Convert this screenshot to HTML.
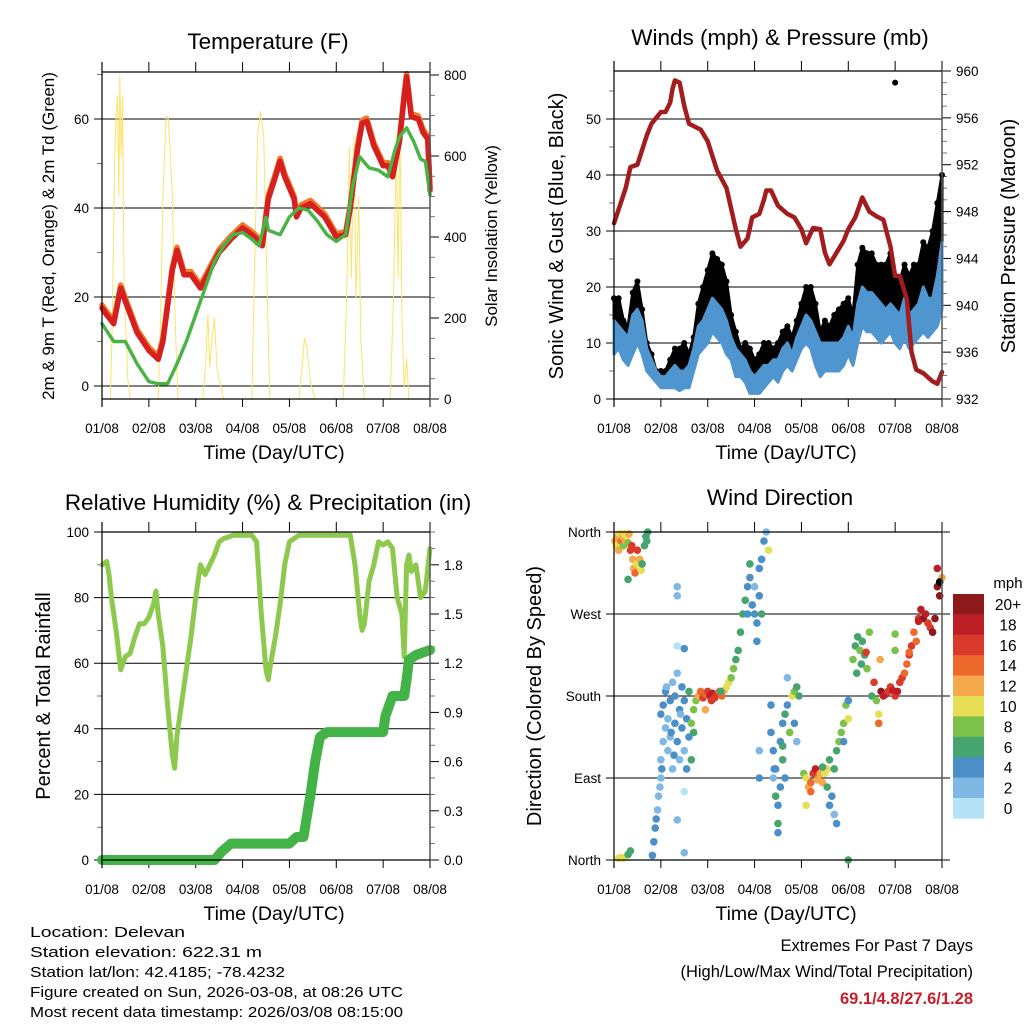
<!DOCTYPE html>
<html><head><meta charset="utf-8"><style>
html,body{margin:0;padding:0;background:#fff}
svg{display:block}
text{font-family:"Liberation Sans",sans-serif;fill:#000}
</style></head><body>
<svg id="s" width="1024" height="1024" viewBox="0 0 1024 1024" xmlns="http://www.w3.org/2000/svg">
<rect width="1024" height="1024" fill="#fff"/>
<g id="g"></g>
<g font-size="14.5">
<text x="30" y="937" textLength="155" lengthAdjust="spacingAndGlyphs">Location: Delevan</text>
<text x="30" y="957" textLength="232" lengthAdjust="spacingAndGlyphs">Station elevation: 622.31 m</text>
<text x="30" y="977" textLength="255" lengthAdjust="spacingAndGlyphs">Station lat/lon: 42.4185; -78.4232</text>
<text x="30" y="997" textLength="373" lengthAdjust="spacingAndGlyphs">Figure created on Sun, 2026-03-08, at 08:26 UTC</text>
<text x="30" y="1017" textLength="373" lengthAdjust="spacingAndGlyphs">Most recent data timestamp: 2026/03/08 08:15:00</text>
</g>
<g font-size="16.5" text-anchor="end">
<text x="973" y="951">Extremes For Past 7 Days</text>
<text x="973" y="977">(High/Low/Max Wind/Total Precipitation)</text>
<text x="973" y="1004" font-weight="bold" style="fill:#c8202a">69.1/4.8/27.6/1.28</text>
</g>
</svg>
<script>
// ---------- data ----------
const dayLabels=["01/08","02/08","03/08","04/08","05/08","06/08","07/08","08/08"];
const tempT=[0,0.1,0.25,0.4,0.5,0.75,1.0,1.2,1.3,1.5,1.6,1.75,1.9,2.1,2.3,2.5,2.75,3.0,3.2,3.3,3.42,3.55,3.7,3.8,3.9,4.1,4.15,4.25,4.45,4.75,5.0,5.2,5.3,5.45,5.55,5.65,5.8,6.0,6.1,6.2,6.35,6.45,6.5,6.6,6.75,6.85,6.95,7.0];
const tempV=[17.5,16,14,22,19,12,8,6,10,26,30.5,25,25,22,26,30,33,35.5,34,33,31.5,42,47,50.5,47,42,38,40,41,38,33.5,34,40,53,59,59.5,54,49.5,49.5,47,55,65,69.5,60.5,60,57,55.5,44];
const dewT=[0,0.25,0.5,0.75,1.0,1.2,1.4,1.6,1.8,2.0,2.2,2.4,2.6,2.8,3.0,3.2,3.35,3.5,3.55,3.8,4.0,4.2,4.4,4.6,4.8,5.0,5.2,5.35,5.5,5.7,5.9,6.1,6.25,6.35,6.5,6.65,6.8,6.9,7.0];
const dewV=[14,10,10,5,1,0.5,0.5,5,10,16,22,28,31.5,34,34.5,33,31.5,38,35,34,38,40,39.5,37,34,32.5,34,45,51.5,49,48.5,47,53,56,58,55,51,50.5,43];
const solarT=[0,0.18,0.22,0.27,0.3,0.33,0.36,0.38,0.41,0.44,0.47,0.5,0.55,0.6,1.2,1.25,1.3,1.37,1.42,1.5,1.56,1.62,2.15,2.22,2.26,2.3,2.35,2.4,2.45,2.5,2.6,3.2,3.25,3.32,3.38,3.45,3.52,3.58,4.2,4.27,4.32,4.37,4.45,4.55,5.15,5.22,5.28,5.32,5.38,5.42,5.48,5.52,5.6,6.15,6.22,6.28,6.32,6.36,6.4,6.45,6.5,6.55,7.0];
const solarV=[0,0,200,600,700,750,500,800,600,750,300,200,50,0,0,200,500,700,690,500,200,0,0,100,210,80,150,200,80,50,0,0,300,650,710,650,300,0,0,80,150,130,40,0,0,250,620,300,650,250,500,150,0,0,250,650,300,680,200,30,100,0,0];
const presT=[0,0.25,0.35,0.5,0.7,0.8,1.0,1.1,1.2,1.25,1.3,1.4,1.5,1.6,1.85,2.0,2.2,2.4,2.6,2.7,2.85,2.95,3.1,3.2,3.25,3.35,3.5,3.7,3.85,4.0,4.1,4.25,4.4,4.5,4.6,4.75,4.9,5.0,5.15,5.3,5.45,5.6,5.75,5.9,6.0,6.1,6.25,6.35,6.45,6.6,6.8,6.9,7.0];
const presV=[947,950,951.8,952,954.5,955.5,956.5,956.5,957.3,958.5,959.2,959,957,955.5,955,954,951.5,950,946.5,945,945.7,947.5,947.8,949,949.8,949.8,948.5,947.8,947.5,946.5,945.3,946.6,946.5,944.5,943.5,944.5,945.5,946.5,947.5,949.2,948,947.6,947.3,945,942.5,942.5,940.5,936,934.5,934.2,933.5,933.3,934.3];
// wind every 0.1 day
const windLo=[8,9,7,6,8,10,8,5,4,3,2,2,2,2,1.5,2,2,5,8,9,10,12,11,10,8,7,4,4,3,1,1,1,2,3,4,3,5,6,5,7,9,10,9,6,4,5,5,5,5,6,8,6,10,13,12,12,11,10,11,12,10,9,11,9,10,11,12,11,12,13,16];
const windHi=[14,13,12,11,15,16,14,9,7,5,4,4,5,6,5,5,6,9,13,14,16,18,17,16,14,11,9,8,7,5,4,5,6,6,7,7,9,10,8,11,13,15,14,12,10,10,10,10,10,11,13,11,17,20,19,19,18,17,16,17,16,15,18,15,16,17,20,18,18,22,28];
const gust=[18,18,14,13,19,21,16,10,8,5,5,5,7,9,9,10,8,11,17,20,23,26,25,24,21,15,12,9,10,9,7,8,10,10,9,10,12,13,11,14,17,20,20,17,12,14,13,15,16,17,18,15,24,27,26,26,24,24,24,26,22,21,24,22,24,24,28,27,30,35,40];
const gustOutT=[6.0], gustOutV=[56.5];
const rhT=[0,0.1,0.15,0.2,0.3,0.4,0.5,0.6,0.7,0.8,0.9,1.0,1.1,1.15,1.2,1.3,1.4,1.5,1.55,1.6,1.7,1.8,1.9,2.0,2.1,2.2,2.3,2.4,2.5,2.6,2.8,3.0,3.2,3.3,3.4,3.5,3.55,3.6,3.7,3.8,3.9,4.0,4.2,4.5,5.0,5.3,5.4,5.5,5.55,5.6,5.7,5.8,5.9,6.0,6.1,6.2,6.3,6.4,6.45,6.5,6.55,6.6,6.7,6.8,6.9,7.0];
const rhV=[90,91,87,80,70,58,62,63,68,72,72,74,78,82,75,65,47,32,28,38,48,58,68,80,90,87,90,93,97,98,99,99,99,97,75,58,55,60,68,78,90,97,99,99,99,99,90,75,70,72,85,90,97,96,97,95,80,75,62,90,93,88,90,80,82,95];
const prT=[0,2.4,2.55,2.75,4.0,4.15,4.3,4.45,4.55,4.65,4.8,6.0,6.05,6.2,6.45,6.5,6.55,6.7,6.9,7.0];
const prV=[0,0,0.05,0.1,0.1,0.14,0.14,0.4,0.6,0.75,0.78,0.78,0.88,1.0,1.0,1.1,1.22,1.25,1.27,1.28];
// wind direction scatter: time (days), direction (deg), speed (mph)
const dirT=[0.02,0.05,0.08,0.1,0.12,0.15,0.18,0.2,0.22,0.25,0.28,0.3,0.32,0.35,0.38,0.4,0.42,0.45,0.48,0.5,0.55,0.58,0.6,0.65,0.68,0.7,0.72,0.3,0.1,0.15,0.2,0.3,0.35,
0.82,0.85,0.88,0.9,0.93,0.95,0.98,1.0,1.02,1.0,1.0,1.05,1.05,1.1,1.1,1.15,1.15,1.2,1.2,1.25,1.25,1.3,1.3,1.35,1.35,1.4,1.4,1.45,1.45,1.5,1.5,1.55,1.55,1.6,1.6,1.65,1.65,1.7,1.7,1.75,1.35,1.35,1.35,1.5,1.35,1.5,1.5,1.12,1.22,1.42,1.28,
1.8,1.85,1.9,1.95,2.0,2.05,2.1,2.15,2.2,2.25,2.3,2.35,2.4,2.45,2.5,2.55,2.6,2.65,2.7,2.75,2.8,2.85,2.9,2.95,3.0,3.0,3.05,3.05,3.1,3.1,3.15,3.15,2.9,2.85,3.2,3.25,3.3,1.95,2.08,2.28,
3.35,3.35,3.4,3.4,3.45,3.45,3.5,3.5,3.5,3.55,3.55,3.6,3.6,3.65,3.65,3.7,3.75,3.8,3.85,3.9,3.95,3.85,3.9,3.1,3.1,3.6,3.7,3.42,
4.05,4.1,4.15,4.2,4.25,4.3,4.35,4.4,4.45,4.5,4.55,4.6,4.55,4.6,4.65,4.7,4.75,4.7,4.75,4.8,4.85,4.9,4.95,5.0,5.0,4.9,5.0,4.1,4.2,4.35,4.45,
5.1,5.15,5.2,5.25,5.3,5.35,5.4,5.45,5.55,5.5,5.18,5.28,5.38,
5.7,5.75,5.8,5.85,5.9,5.95,6.0,6.05,6.1,6.15,6.2,6.25,6.3,6.35,6.4,6.45,6.5,6.55,6.6,6.65,6.7,6.75,6.8,6.85,6.9,6.95,7.0,5.6,5.65,5.68,6.0,6.0,5.65,6.3,6.5,6.9,6.95];
const dirV=[350,345,355,340,358,350,355,345,358,350,355,348,358,340,345,330,320,315,325,340,330,318,325,345,355,350,360,308,2,3,2,6,10,
5,20,35,45,55,70,80,90,100,110,160,170,130,145,185,120,155,175,135,100,195,150,180,130,205,165,110,145,190,120,175,100,155,135,185,110,150,140,165,175,300,290,235,232,44,8,75,190,140,160,115,
180,185,178,182,185,180,183,178,182,185,180,186,190,195,200,210,220,230,250,270,285,300,310,280,270,300,260,240,320,290,330,270,325,270,350,360,340,165,175,185,
170,140,120,90,70,100,60,40,30,80,130,150,110,90,160,170,140,180,185,190,180,150,130,120,90,125,200,100,
95,90,80,85,95,100,90,95,85,95,100,110,80,60,70,50,40,100,120,130,140,150,170,175,0,130,155,60,75,88,102,
220,235,245,230,240,225,210,250,195,180,205,215,228,
185,180,182,185,190,186,180,185,195,200,205,215,225,235,250,240,265,275,265,270,260,255,250,265,300,290,310,175,160,220,248,230,150,228,262,320,305];
const dirS=[12,11,13,12,10,14,12,9,10,13,11,9,12,16,17,13,12,14,10,16,12,10,7,6,6,7,6,6,10,11,10,7,6,
4,5,4,4,3,3,3,3,4,3,4,4,3,3,4,3,2,4,3,3,3,4,5,4,3,4,3,4,5,3,4,4,5,5,6,6,8,7,8,9,2,2,1,4,3,2,1,3,4,3,4,
12,14,16,15,17,18,19,17,16,15,14,12,11,10,8,8,7,7,6,6,6,5,5,4,4,3,4,4,5,5,4,7,6,4,4,2,11,13,16,
6,5,4,4,3,6,5,4,6,4,5,4,5,6,5,6,5,8,10,9,7,6,5,2,2,4,7,3,
4,8,10,12,14,16,18,15,13,12,10,11,7,6,4,4,3,4,6,7,8,8,9,9,4,6,5,10,11,15,13,
7,8,7,6,8,7,6,8,9,16,7,6,7,
17,20,19,18,17,16,18,17,18,17,16,15,14,16,16,15,14,16,18,20,18,16,17,20,20,21,21,12,8,11,12,9,8,14,15,19,18];
const cbLabels=["20+","18","16","14","12","10","8","6","4","2","0"];
const cbColors=["#8e191c","#bd1f26","#da3a2b","#ee6a2c","#f5a94a","#e6de55","#7cc24a","#46a46e","#4a8fc8","#7fb9e3","#b5e2f6"];

// ---------- helpers ----------
const NS="http://www.w3.org/2000/svg";
const G=document.getElementById('g');
function el(tag,attrs,parent){const e=document.createElementNS(NS,tag);for(const k in attrs)e.setAttribute(k,attrs[k]);(parent||G).appendChild(e);return e;}
function txt(x,y,s,size,anchor,parent,rot){const t=el('text',{x:x,y:y,'font-size':size,'text-anchor':anchor||'middle'},parent);if(rot)t.setAttribute('transform','rotate(-90 '+x+' '+y+')');t.textContent=s;return t;}
function scale(d0,d1,r0,r1){return v=>r0+(v-d0)*(r1-r0)/(d1-d0);}
function poly(xs,ys,fx,fy,stroke,w,parent){let p='';for(let i=0;i<xs.length;i++)p+=(i?'L':'M')+fx(xs[i]).toFixed(1)+' '+fy(ys[i]).toFixed(1);return el('path',{d:p,fill:'none',stroke:stroke,'stroke-width':w,'stroke-linejoin':'round','stroke-linecap':'round'},parent);}

function panel(name,x0,x1,yt,yb,title,titleY){
  const g=el('g',{});
  
  
  const fx=scale(0,7,x0,x1);
  const tt=txt((x0+x1)/2+2,titleY,title,22.5,'middle',g);
  
  
  for(let i=0;i<8;i++){const x=fx(i);
    el('line',{x1:x,x2:x,y1:yt-10,y2:yt,stroke:'#000','stroke-width':1},g);
    el('line',{x1:x,x2:x,y1:yb,y2:yb+8,stroke:'#000','stroke-width':1},g);
    const l=txt(x,yb+34,dayLabels[i],13.5,'middle',g);
    
    
  }
  const xt=txt((x0+x1)/2+8,yb+60,'Time (Day/UTC)',19.5,'middle',g);
  
  
  return {g,fx};
}
function frame(g,x0,x1,yt,yb){
  el('line',{x1:x0,x2:x0,y1:yt-10,y2:yb+8,stroke:'#000','stroke-width':1.2},g);
  el('line',{x1:x1,x2:x1,y1:yt-10,y2:yb+8,stroke:'#555','stroke-width':1.5},g);
  el('line',{x1:x0,x2:x1,y1:yt,y2:yt,stroke:'#000','stroke-width':1.2},g);
  el('line',{x1:x0,x2:x1,y1:yb,y2:yb,stroke:'#000','stroke-width':1.2},g);
}
function leftAxis(g,x0,x1,fy,ticks,labels,minor,ext){
  ticks.forEach((v,i)=>{const y=fy(v);
    el('line',{x1:x0-8,x2:x1+(ext||0),y1:y,y2:y,stroke:'#000','stroke-width':1},g);
    const t=txt(x0-13,y+5,labels[i],13.5,'end',g);
    
    
  });
  (minor||[]).forEach(v=>{const y=fy(v);el('line',{x1:x0-5,x2:x0,y1:y,y2:y,stroke:'#555','stroke-width':0.8},g);});
}
function rightAxis(g,x1,fy,ticks,labels,minor){
  ticks.forEach((v,i)=>{const y=fy(v);
    el('line',{x1:x1,x2:x1+9,y1:y,y2:y,stroke:'#000','stroke-width':1},g);
    const t=txt(x1+14,y+5,labels[i],13.5,'start',g);
    
    
  });
  (minor||[]).forEach(v=>{const y=fy(v);el('line',{x1:x1,x2:x1+5,y1:y,y2:y,stroke:'#555','stroke-width':0.8},g);});
}
function range(a,b,s){const r=[];for(let v=a;v<=b+1e-9;v+=s)r.push(+v.toFixed(4));return r;}

// ---------- Temperature ----------
(function(){
  const x0=102,x1=430,yt=72,yb=399;
  const {g,fx}=panel('temperature-chart',x0,x1,yt,yb,'Temperature (F)',49);
  const fy=scale(0,60,386,119), fs=scale(0,800,399,75);
  leftAxis(g,x0,x1,fy,[0,20,40,60],['0','20','40','60'],range(-0,70,10).filter(v=>v%20));
  rightAxis(g,x1,fs,[0,200,400,600,800],['0','200','400','600','800'],range(50,800,50).filter(v=>v%200));
  const s=poly(solarT,solarV,fx,fs,'#fbe36a',1,g);
  
  
  const o=poly(tempT,tempV.map(v=>v+0.7),fx,fy,'#f07a2a',5.5,g);
  
  
  const r=poly(tempT,tempV,fx,fy,'#d6201f',5.5,g);
  
  
  const d=poly(dewT,dewV,fx,fy,'#4ab346',3.5,g);
  
  
  d.setAttribute('stroke-dasharray','3 1.5');
  frame(g,x0,x1,yt,yb);
  const a=txt(54,236,'2m & 9m T (Red, Orange) & 2m Td (Green)',17,'middle',g,true);
  
  
  const b=txt(497,236,'Solar Insolation (Yellow)',17,'middle',g,true);
  
  
})();

// ---------- Winds ----------
(function(){
  const x0=614,x1=942,yt=71,yb=399;
  const {g,fx}=panel('winds-pressure-chart',x0,x1,yt,yb,'Winds (mph) & Pressure (mb)',45);
  const fy=scale(0,50,399,119), fp=scale(932,960,399,71);
  leftAxis(g,x0,x1,fy,[0,10,20,30,40,50],['0','10','20','30','40','50'],range(5,55,10));
  rightAxis(g,x1,fp,[932,936,940,944,948,952,956,960],['932','936','940','944','948','952','956','960'],range(933,959,1).filter(v=>v%4));
  const wt=windLo.map((_,i)=>i*0.1);
  let p='';
  wt.forEach((t,i)=>p+=(i?'L':'M')+fx(t).toFixed(1)+' '+fy(gust[i]).toFixed(1));
  for(let i=wt.length-1;i>=0;i--)p+='L'+fx(wt[i]).toFixed(1)+' '+fy(windLo[i]+1).toFixed(1);
  const gb=el('path',{d:p+'Z',fill:'#000',stroke:'#000','stroke-width':3,'stroke-linejoin':'round'},g);
  
  
  wt.forEach((t,i)=>{const c=el('circle',{cx:fx(t),cy:fy(gust[i]),r:3,fill:'#000'},g);
    
    });
  gustOutT.forEach((t,i)=>{const c=el('circle',{cx:fx(t),cy:fy(gustOutV[i]),r:3,fill:'#000'},g);
    
    });
  p='';
  wt.forEach((t,i)=>p+=(i?'L':'M')+fx(t).toFixed(1)+' '+fy(windHi[i]).toFixed(1));
  for(let i=wt.length-1;i>=0;i--)p+='L'+fx(wt[i]).toFixed(1)+' '+fy(windLo[i]).toFixed(1);
  const wb=el('path',{d:p+'Z',fill:'#4f95d0',stroke:'#4f95d0','stroke-width':3,'stroke-linejoin':'round'},g);
  
  
  const pr=poly(presT,presV,fx,fp,'#a31d1e',4.5,g);
  
  
  frame(g,x0,x1,yt,yb);
  const a=txt(563,236,'Sonic Wind & Gust (Blue, Black)',20,'middle',g,true);
  
  
  const b=txt(1015,236,'Station Pressure (Maroon)',20,'middle',g,true);
  
  
})();

// ---------- RH & Precip ----------
(function(){
  const x0=102,x1=430,yt=532,yb=860;
  const {g,fx}=panel('humidity-precip-chart',x0,x1,yt,yb,'Relative Humidity (%) & Precipitation (in)',510);
  const fy=scale(0,100,860,532), fp=scale(0,2,860,532);
  leftAxis(g,x0,x1,fy,[0,20,40,60,80,100],['0','20','40','60','80','100'],range(10,90,20));
  rightAxis(g,x1,fp,[0,0.3,0.6,0.9,1.2,1.5,1.8],['0.0','0.3','0.6','0.9','1.2','1.5','1.8'],range(0.1,2,0.1).filter(v=>Math.round(v*10)%3));
  const rh=poly(rhT,rhV,fx,fy,'#8dc94d',5,g);
  
  
  const pr=poly(prT,prV,fx,fp,'#44b347',10,g);
  
  
  frame(g,x0,x1,yt,yb);
  const a=txt(50,696,'Percent & Total Rainfall',20,'middle',g,true);
  
  
})();

// ---------- Wind direction ----------
(function(){
  const x0=614,x1=942,yt=532,yb=860;
  const {g,fx}=panel('wind-direction-chart',x0,x1,yt,yb,'Wind Direction',505);
  const fy=scale(0,360,860,532);
  leftAxis(g,x0,x1,fy,[0,90,180,270,360],['North','East','South','West','North'],[],8);
  function col(s){const i=Math.min(10,Math.floor(s/2));return cbColors[10-i];}
  dirT.forEach((t,i)=>{const c=el('circle',{cx:fx(t),cy:fy(dirV[i]),r:3.8,fill:col(dirS[i])},g);
    
    });
  frame(g,x0,x1,yt,yb);
  const a=txt(541,696,'Direction (Colored By Speed)',20,'middle',g,true);
  
  
  const cb=el('g',{});
  
  
  const h=20.4;
  cbColors.forEach((c,i)=>{el('rect',{x:953,y:594+i*h,width:31,height:h+0.3,fill:c},cb);
    const t=txt(1008,594+i*h+16,cbLabels[i],15.5,'middle',cb);
    
    });
  const m=txt(1008,588,'mph',15,'middle',cb);
  
  
})();
</script>
</body></html>
